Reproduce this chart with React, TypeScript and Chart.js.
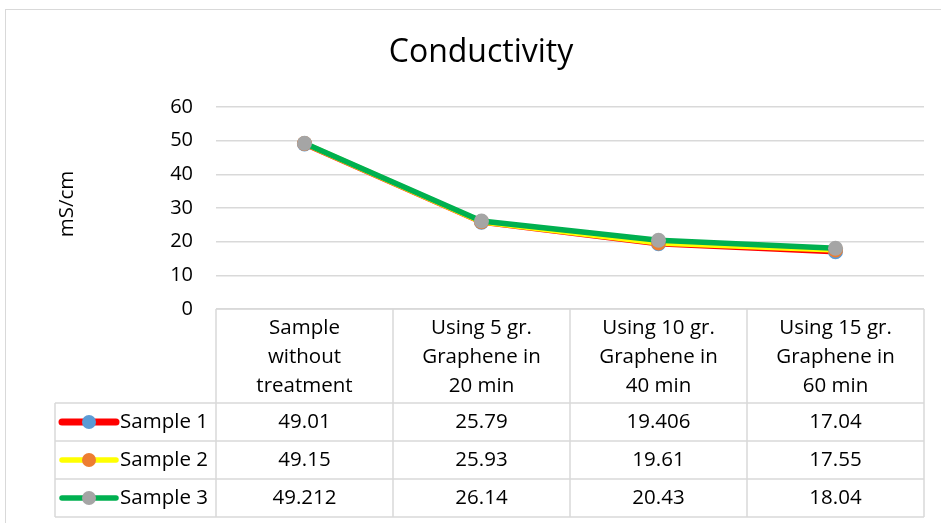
import React, { useEffect, useRef } from "react";
import { Chart, registerables } from "chart.js";

Chart.register(...registerables);

const categories: string[][] = [
  ["Sample", "without", "treatment"],
  ["Using 5 gr.", "Graphene in", "20 min"],
  ["Using 10 gr.", "Graphene in", "40 min"],
  ["Using 15 gr.", "Graphene in", "60 min"],
];
const seriesNames = ["Sample 1", "Sample 2", "Sample 3"];
const sample1 = [49.01, 25.79, 19.406, 17.04];
const sample2 = [49.15, 25.93, 19.61, 17.55];
const sample3 = [49.212, 26.14, 20.43, 18.04];
const sample1Labels = ["49.01", "25.79", "19.406", "17.04"];
const sample2Labels = ["49.15", "25.93", "19.61", "17.55"];
const sample3Labels = ["49.212", "26.14", "20.43", "18.04"];
const yTicks = [0, 10, 20, 30, 40, 50, 60];

const lineColors = ["#FF0000", "#FFFF00", "#00B050"];
const markerColors = ["#5B9BD5", "#ED7D31", "#A5A5A5"];
const FONT = "'Open Sans', 'Noto Sans', sans-serif";
const GRID = "#d9d9d9";

const tablePlugin = {
  id: "tablePlugin",
  afterDraw(chart: any) {
    const ctx = chart.ctx as CanvasRenderingContext2D;
    const area = chart.chartArea;
    const x = chart.scales.x;
    const left = area.left;
    const right = area.right;
    const n = categories.length;
    const colW = (right - left) / n;
    const top = area.bottom;
    const headerBottom = top + 94;
    const rowH = 38;
    const tableLeft = 55;
    const rows = [sample1Labels, sample2Labels, sample3Labels];
    const bottom = headerBottom + rowH * rows.length;

    ctx.save();
    // chart border
    ctx.strokeStyle = GRID;
    ctx.lineWidth = 1;
    ctx.strokeRect(5.5, 9.5, 941, 530);

    // title
    ctx.fillStyle = "#000";
    ctx.font = `32px ${FONT}`;
    ctx.textAlign = "center";
    ctx.textBaseline = "middle";
    ctx.fillText("Conductivity", 481, 53);

    // y axis title
    ctx.save();
    ctx.translate(67, 204);
    ctx.rotate(-Math.PI / 2);
    ctx.font = `20.5px ${FONT}`;
    ctx.fillText("mS/cm", 0, 0);
    ctx.restore();

    // table grid
    ctx.strokeStyle = GRID;
    ctx.lineWidth = 1.5;
    ctx.beginPath();
    ctx.moveTo(left, top);
    ctx.lineTo(right, top);
    for (let r = 0; r <= rows.length; r++) {
      const yy = headerBottom + r * rowH;
      ctx.moveTo(tableLeft, yy);
      ctx.lineTo(right, yy);
    }
    ctx.moveTo(tableLeft, headerBottom);
    ctx.lineTo(tableLeft, bottom);
    for (let c = 0; c <= n; c++) {
      const xx = left + c * colW;
      ctx.moveTo(xx, top);
      ctx.lineTo(xx, bottom);
    }
    ctx.stroke();

    // header text
    ctx.fillStyle = "#000";
    ctx.font = `20.5px ${FONT}`;
    ctx.textAlign = "center";
    ctx.textBaseline = "middle";
    categories.forEach((lines, i) => {
      const cx = x.getPixelForValue(i);
      lines.forEach((ln, j) => {
        ctx.fillText(ln, cx, top + 19 + j * 29);
      });
    });

    // rows
    rows.forEach((vals, r) => {
      const cy = headerBottom + r * rowH + rowH / 2;
      vals.forEach((v, i) => {
        const cx = x.getPixelForValue(i);
        ctx.textAlign = "center";
        ctx.fillStyle = "#000";
        ctx.fillText(v, cx, cy);
      });
      // legend key
      ctx.strokeStyle = lineColors[r];
      ctx.lineWidth = r === 0 ? 7 : 5.5;
      ctx.lineCap = "round";
      ctx.beginPath();
      ctx.moveTo(62, cy);
      ctx.lineTo(116, cy);
      ctx.stroke();
      ctx.fillStyle = markerColors[r];
      ctx.beginPath();
      ctx.arc(89, cy, 7, 0, Math.PI * 2);
      ctx.fill();
      ctx.fillStyle = "#000";
      ctx.textAlign = "right";
      ctx.fillText(seriesNames[r], 208, cy);
    });
    ctx.restore();
  },
};

export default function App() {
  const ref = useRef<HTMLCanvasElement>(null);
  useEffect(() => {
    document.body.style.margin = "0";
    const data = [sample1, sample2, sample3];
    const chart = new Chart(ref.current!, {
      type: "line",
      data: {
        labels: categories.map((c) => c.join(" ")),
        datasets: data.map((d, i) => ({
          label: seriesNames[i],
          data: d,
          borderColor: lineColors[i],
          backgroundColor: markerColors[i],
          pointBackgroundColor: markerColors[i],
          pointBorderColor: markerColors[i],
          borderWidth: 5.5,
          pointRadius: 7.5,
          pointBorderWidth: 0,
          tension: 0,
          order: 2 - i,
        })),
      },
      options: {
        animation: false,
        responsive: false,
        maintainAspectRatio: false,
        layout: { padding: { left: 0, top: 107, right: 17, bottom: 214 } },
        plugins: { legend: { display: false }, tooltip: { enabled: false }, title: { display: false } },
        scales: {
          x: { type: "category", display: false, offset: true },
          y: {
            min: 0,
            max: 60,
            afterFit: (s: any) => {
              s.width = 216;
            },
            afterBuildTicks: (s: any) => {
              s.ticks = yTicks.map((v) => ({ value: v }));
            },
            grid: { color: GRID, lineWidth: 1.5, drawTicks: false },
            border: { display: false },
            ticks: {
              padding: 23,
              color: "#000",
              font: { family: FONT, size: 20 },
            },
          },
        },
      },
      plugins: [tablePlugin],
    });
    return () => chart.destroy();
  }, []);
  return (
    <div style={{ width: 941, height: 523, background: "#fff" }}>
      <canvas ref={ref} width={941} height={523} style={{ display: "block" }} />
    </div>
  );
}
